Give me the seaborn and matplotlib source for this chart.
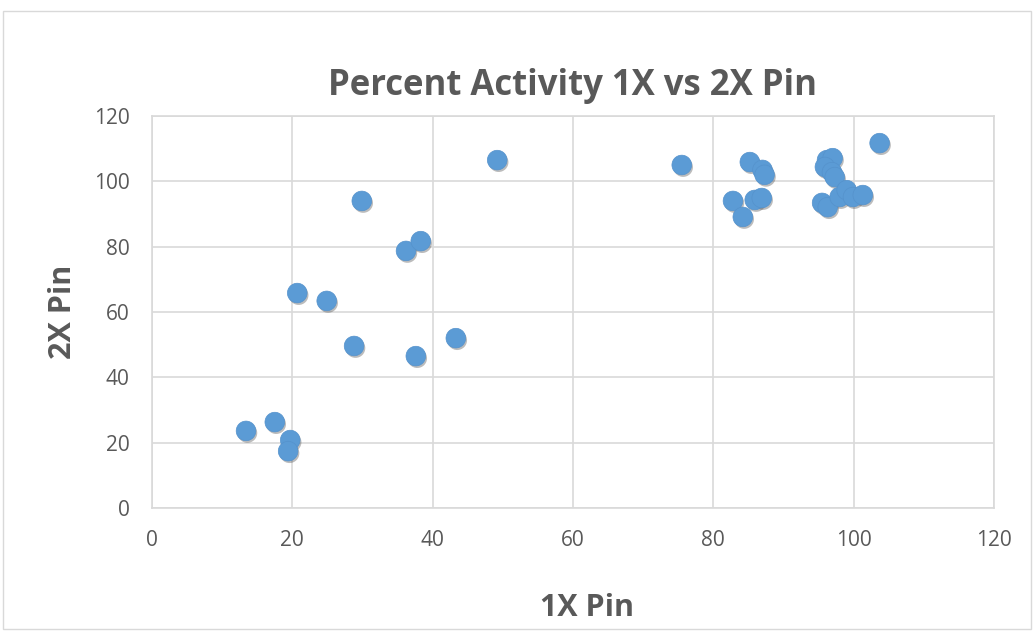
import matplotlib
matplotlib.use("Agg")
import matplotlib.pyplot as plt
import matplotlib.patheffects as pe
import pandas as pd
import seaborn as sns

# Values
pin_1x = [13.4, 17.5, 19.7, 19.4, 20.7, 24.9, 28.8, 29.9, 36.2, 38.3, 37.6, 43.3,
          49.2, 75.5, 82.8, 84.2, 85.2, 87.0, 87.3, 85.9, 86.9, 96.2, 97.0, 95.9,
          96.9, 97.3, 95.5, 96.3, 98.0, 99.0, 99.9, 101.3, 103.7]
pin_2x = [23.6, 26.3, 20.8, 17.4, 65.8, 63.4, 49.6, 94.0, 78.7, 81.7, 46.5, 52.0,
          106.5, 105.0, 94.0, 89.1, 105.9, 103.5, 102.0, 94.3, 94.9, 106.5, 107.1, 104.4,
          102.8, 101.3, 93.4, 92.1, 95.2, 97.3, 95.2, 95.8, 111.7]
ticks = [0, 20, 40, 60, 80, 100, 120]

df = pd.DataFrame({"1X Pin": pin_1x, "2X Pin": pin_2x})

sns.set_theme(style="white")
plt.rcParams["font.family"] = ["Open Sans", "DejaVu Sans"]

fig = plt.figure(figsize=(10.33, 6.32), dpi=100)
ax = fig.add_axes([152 / 1033, 1 - 508 / 632, (994 - 152) / 1033, (508 - 116) / 632])

grey = "#595959"
sns.scatterplot(data=df, x="1X Pin", y="2X Pin", ax=ax, s=200, color="#5B9BD5",
                edgecolor="#5592CC", linewidth=0.5, zorder=3,
                path_effects=[pe.SimplePatchShadow(offset=(1, -1.5), shadow_rgbFace="#404040", alpha=0.35),
                              pe.Normal()])

ax.set_xlim(0, 120)
ax.set_ylim(0, 120)
ax.set_xticks(ticks)
ax.set_yticks(ticks)
ax.grid(True, color="#D9D9D9", linewidth=1.2, zorder=0)
ax.set_axisbelow(True)
for side in ["top", "right", "left", "bottom"]:
    ax.spines[side].set_color("#D9D9D9")
    ax.spines[side].set_linewidth(1.2)
ax.tick_params(axis="both", length=0, labelsize=15, labelcolor=grey)
ax.tick_params(axis="x", pad=16)
ax.tick_params(axis="y", pad=16)

ax.set_xlabel("1X Pin", fontsize=22, fontweight="bold", color=grey, va="center")
ax.xaxis.set_label_coords((587 - 152) / 842, (508 - 608) / 392)
ax.set_ylabel("2X Pin", fontsize=22, fontweight="bold", color=grey, va="center")
ax.yaxis.set_label_coords((63 - 152) / 842, 0.5)
ax.set_title("Percent Activity 1X vs 2X Pin", fontsize=25, fontweight="bold", color=grey,
             y=(508 - 86) / 392, va="center", pad=0)

# chart area border
border = plt.Rectangle((3 / 1033, 0.005), 1028 / 1033, 1 - 11 / 632 - 0.005, transform=fig.transFigure,
                       fill=False, edgecolor="#D9D9D9", linewidth=1)
fig.patches.append(border)

fig.savefig("out.png", dpi=100, facecolor="white")
